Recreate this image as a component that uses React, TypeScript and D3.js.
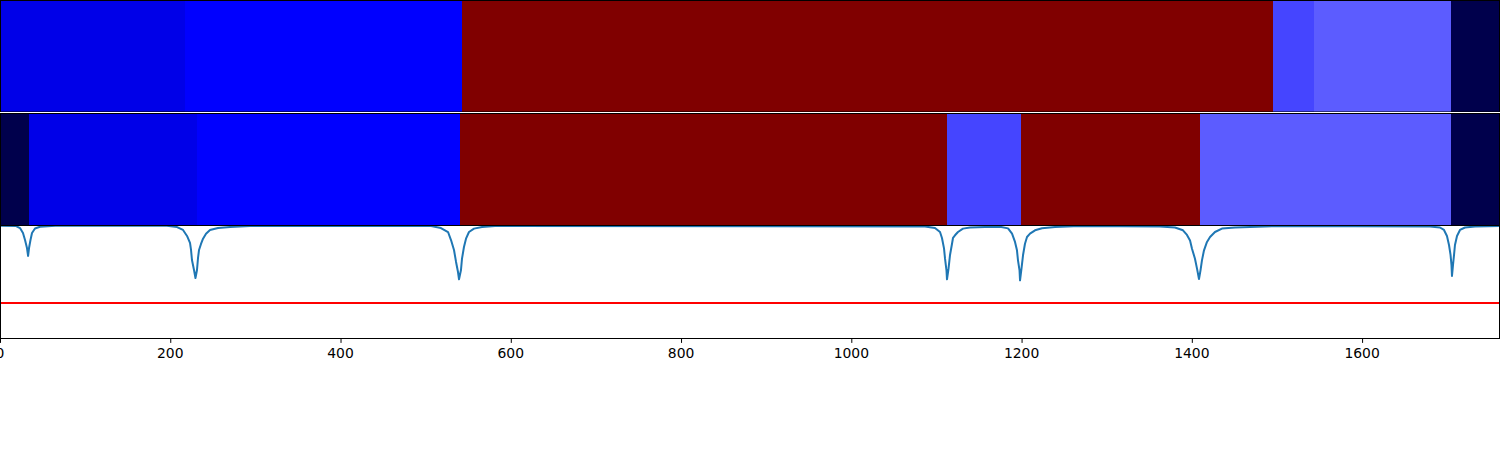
import React from "react";
import * as d3 from "d3";

// segment boundaries (sample index) and normalized levels for the two rows
const row1Bounds = [0, 217, 543, 1495, 1543, 1704, 1762];
const row1Levels = [0.218, 0.25, 1.0, 0.318, 0.34, 0.0];
const row2Bounds = [0, 34, 231, 540, 1112, 1199, 1410, 1705, 1762];
const row2Levels = [0.0, 0.218, 0.25, 1.0, 0.318, 1.0, 0.34, 0.0];

// score curve
const scorePoints: [number, number][] = [
  [0, 0.993], [19, 0.991], [23.5, 0.973], [27, 0.929], [29.4, 0.867], [31.7, 0.796], [33, 0.726], [34.1, 0.796], [35.8, 0.867], [37.6, 0.929], [41.1, 0.969], [47, 0.985], [65, 0.993],
  [196, 0.993], [208, 0.982], [215, 0.956], [219.7, 0.903], [223.2, 0.841], [224.4, 0.779], [225.5, 0.69], [227.9, 0.602], [229.6, 0.531], [231.4, 0.602], [232.6, 0.708], [233.8, 0.779], [236.1, 0.832], [238.5, 0.879], [242, 0.923], [246.7, 0.956], [256.1, 0.973], [270.2, 0.982], [293.7, 0.991],
  [505, 0.993], [518, 0.973], [526.3, 0.938], [529.8, 0.867], [533.3, 0.779], [535.7, 0.673], [538, 0.584], [539.2, 0.519], [541.5, 0.602], [542.7, 0.702], [545, 0.805], [547.4, 0.879], [550.9, 0.938], [556.8, 0.968], [566.2, 0.982], [581.5, 0.991],
  [1086.6, 0.987], [1098.3, 0.973], [1104.2, 0.938], [1106.5, 0.885], [1108.9, 0.793], [1110.1, 0.702], [1111.8, 0.599], [1112.4, 0.519], [1114.2, 0.613], [1115.9, 0.732], [1118.3, 0.834], [1119.5, 0.887], [1121.8, 0.909], [1125.3, 0.938], [1131.2, 0.968], [1139.4, 0.978], [1157, 0.982],
  [1174.7, 0.985], [1184.1, 0.97], [1188.8, 0.923], [1192.3, 0.85], [1194.6, 0.776], [1195.8, 0.687], [1197.6, 0.599], [1198.2, 0.51], [1199.9, 0.613], [1201.7, 0.732], [1204, 0.834], [1206.4, 0.894], [1209.9, 0.923], [1215.8, 0.953], [1224, 0.971], [1239.3, 0.982], [1268.6, 0.991],
  [1362.6, 0.987], [1380.2, 0.978], [1389.6, 0.953], [1394.3, 0.912], [1397.9, 0.862], [1400.2, 0.79], [1403.7, 0.702], [1406.1, 0.614], [1408.4, 0.522], [1410.2, 0.599], [1411.9, 0.687], [1414.3, 0.776], [1417.8, 0.85], [1421.4, 0.894], [1427.2, 0.938], [1435.4, 0.968], [1450.7, 0.978], [1468.3, 0.982], [1503.6, 0.991],
  [1679.8, 0.987], [1691.5, 0.978], [1696.2, 0.956], [1699.7, 0.903], [1702.1, 0.823], [1703.9, 0.735], [1705, 0.646], [1705.6, 0.549], [1706.8, 0.646], [1708, 0.735], [1709.1, 0.823], [1711.5, 0.903], [1715, 0.956], [1720.9, 0.978], [1732.6, 0.987], [1761, 0.991],
];

const threshold = 0.31;
const xTicks = [0, 200, 400, 600, 800, 1000, 1200, 1400, 1600];

const W = 1500;
const X_MAX = 1762;

export default function App() {
  const x = d3.scaleLinear().domain([0, X_MAX]).range([0, W]);
  const seismic = d3
    .scaleLinear<string>()
    .domain([0, 0.25, 0.5, 0.75, 1])
    .range(["#00004c", "#0000ff", "#ffffff", "#ff0000", "#800000"]);

  const r1 = { top: 0, bottom: 112 };
  const r2 = { top: 113, bottom: 225 };
  const p = { top: 225, bottom: 338 };
  const y = d3.scaleLinear().domain([0, 1]).range([p.bottom, p.top]);

  const line = d3
    .line<[number, number]>()
    .x((d) => x(d[0]))
    .y((d) => y(d[1]));

  const segs = (bounds: number[], levels: number[], top: number, bottom: number, key: string) =>
    levels.map((lv, i) => (
      <rect
        key={key + i}
        x={x(bounds[i])}
        y={top}
        width={x(bounds[i + 1]) - x(bounds[i])}
        height={bottom - top}
        fill={seismic(lv)}
        shapeRendering="crispEdges"
      />
    ));

  return (
    <svg
      width={1500}
      height={450}
      style={{ position: "absolute", left: 0, top: 0, background: "#fff" }}
      fontFamily="DejaVu Sans"
    >
      <defs>
        <clipPath id="pclip">
          <rect x={0} y={p.top} width={W} height={p.bottom - p.top} />
        </clipPath>
      </defs>
      {segs(row1Bounds, row1Levels, r1.top, r1.bottom, "a")}
      {segs(row2Bounds, row2Levels, r2.top, r2.bottom, "b")}
      <g clipPath="url(#pclip)">
        <line x1={0} x2={W} y1={y(threshold)} y2={y(threshold)} stroke="#ff0000" strokeWidth={2} />
        <path d={line(scorePoints) || ""} fill="none" stroke="#1f77b4" strokeWidth={2} strokeLinejoin="round" />
      </g>
      {/* frames */}
      <rect x={0.5} y={0.5} width={W - 1} height={r1.bottom - 0.5} fill="none" stroke="#000" strokeWidth={1} />
      <rect x={0.5} y={r2.top + 0.5} width={W - 1} height={r2.bottom - r2.top} fill="none" stroke="#000" strokeWidth={1} />
      <line x1={0} x2={W} y1={r1.bottom + 0.5} y2={r1.bottom + 0.5} stroke="#fff" strokeWidth={1} />
      <rect x={0.5} y={p.top + 0.5} width={W - 1} height={p.bottom - p.top} fill="none" stroke="#000" strokeWidth={1} />
      {/* x axis */}
      {xTicks.map((t) => (
        <g key={t} transform={`translate(${x(t)},${p.bottom})`}>
          <line x1={0.5} x2={0.5} y1={0} y2={4.9} stroke="#000" strokeWidth={1} />
          <text x={0} y={19.5} textAnchor="middle" fontSize={13.9} fill="#000">
            {t}
          </text>
        </g>
      ))}
    </svg>
  );
}
